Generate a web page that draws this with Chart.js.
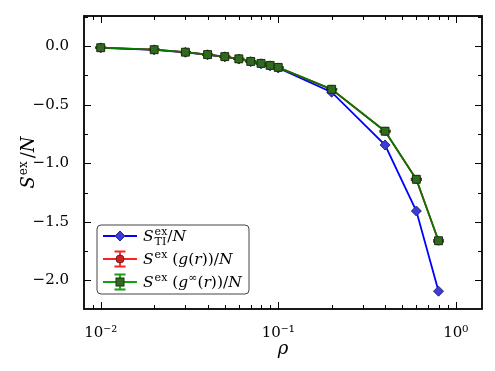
<!DOCTYPE html>
<html><head><meta charset="utf-8">
<script src="https://cdn.jsdelivr.net/npm/chart.js@4.4.0/dist/chart.umd.min.js"></script>
<style>html,body{margin:0;padding:0;background:#fff;}canvas{display:block;}</style>
</head><body>
<canvas id="c" width="495" height="371"></canvas>
<script>
// ---- data ----
const rho     = [0.01, 0.02, 0.03, 0.04, 0.05, 0.06, 0.07, 0.08, 0.09, 0.1, 0.2, 0.4, 0.6, 0.8];
const sTI     = [-0.014, -0.031, -0.052, -0.073, -0.091, -0.110, -0.132, -0.150, -0.168, -0.186, -0.393, -0.844, -1.408, -2.093];
const sG      = [-0.013, -0.030, -0.051, -0.072, -0.090, -0.108, -0.130, -0.147, -0.164, -0.181, -0.369, -0.727, -1.138, -1.664];
const errG    = [0.004, 0.004, 0.004, 0.004, 0.004, 0.004, 0.004, 0.004, 0.004, 0.004, 0.005, 0.006, 0.007, 0.008];
const sGinf   = [-0.013, -0.030, -0.051, -0.072, -0.089, -0.108, -0.130, -0.147, -0.164, -0.181, -0.368, -0.726, -1.137, -1.662];
const errGinf = [0.004, 0.004, 0.004, 0.004, 0.004, 0.004, 0.004, 0.004, 0.004, 0.004, 0.005, 0.006, 0.007, 0.008];
const xTickValues = [0.01, 0.1, 1];
const xTickLabels = ['10\u207B\u00B2', '10\u207B\u00B9', '10\u2070'];
const yTickValues = [0, -0.5, -1, -1.5, -2];
const yTickLabels = ['0.0', '\u22120.5', '\u22121.0', '\u22121.5', '\u22122.0'];
const yMinorValues = [0.25, -0.25, -0.75, -1.25, -1.75, -2.25];

const FONT = '"DejaVu Serif", "Liberation Serif", serif';
const BLUE = '#0000ff', RED = '#e00000', GREEN = '#007a00';

function pts(ys){ return rho.map((x,i)=>({x:x, y:ys[i]})); }

const errorSets = [
  {vals: sG, errs: errG, color: RED},
  {vals: sGinf, errs: errGinf, color: '#0a5a0a'}
];

const errorBarPlugin = {
  id: 'errbars',
  beforeDatasetsDraw(chart){
    const ctx = chart.ctx, xs = chart.scales.x, ys = chart.scales.y;
    ctx.save();
    ctx.lineWidth = 1.3;
    for (const s of errorSets){
      ctx.strokeStyle = s.color;
      rho.forEach((r,i)=>{
        const px = xs.getPixelForValue(r);
        const y1 = ys.getPixelForValue(s.vals[i] + s.errs[i]);
        const y2 = ys.getPixelForValue(s.vals[i] - s.errs[i]);
        ctx.beginPath();
        ctx.moveTo(px, y1); ctx.lineTo(px, y2);
        ctx.moveTo(px-5.5, y1); ctx.lineTo(px+5.5, y1);
        ctx.moveTo(px-5.5, y2); ctx.lineTo(px+5.5, y2);
        ctx.stroke();
      });
    }
    ctx.restore();
  }
};

function drawMath(ctx, x, y, parts){
  for (const p of parts){
    if (p.stack){
      let w = 0;
      for (const q of p.stack){
        ctx.font = (q.i?'italic ':'') + q.s + 'px ' + FONT;
        ctx.fillText(q.t, x, y + q.dy);
        w = Math.max(w, ctx.measureText(q.t).width);
      }
      x += w + (p.after||0);
    } else {
      ctx.font = (p.i?'italic ':'') + p.s + 'px ' + FONT;
      ctx.fillText(p.t, x, y + (p.dy||0));
      x += ctx.measureText(p.t).width + (p.after||0);
    }
  }
  return x;
}
function measureMath(ctx, parts){
  let x = 0;
  for (const p of parts){
    if (p.stack){
      let w = 0;
      for (const q of p.stack){ ctx.font = (q.i?'italic ':'') + q.s + 'px ' + FONT; w = Math.max(w, ctx.measureText(q.t).width); }
      x += w + (p.after||0);
    } else {
      ctx.font = (p.i?'italic ':'') + p.s + 'px ' + FONT;
      x += ctx.measureText(p.t).width + (p.after||0);
    }
  }
  return x;
}

const framePlugin = {
  id: 'frame',
  afterDraw(chart){
    const ctx = chart.ctx, a = chart.chartArea, xs = chart.scales.x, ys = chart.scales.y;
    ctx.save();
    ctx.strokeStyle = '#000';
    ctx.lineWidth = 1;
    const xmin = xs.min, xmax = xs.max;
    const drawX = (v, len) => {
      const px = Math.round(xs.getPixelForValue(v)) + 0.5;
      ctx.beginPath();
      ctx.moveTo(px, a.bottom); ctx.lineTo(px, a.bottom - len);
      ctx.moveTo(px, a.top); ctx.lineTo(px, a.top + len);
      ctx.stroke();
    };
    const drawY = (v, len) => {
      const py = Math.round(ys.getPixelForValue(v)) + 0.5;
      ctx.beginPath();
      ctx.moveTo(a.left, py); ctx.lineTo(a.left + len, py);
      ctx.moveTo(a.right, py); ctx.lineTo(a.right - len, py);
      ctx.stroke();
    };
    for (let e = -3; e <= 0; e++){
      for (let k = 1; k <= 9; k++){
        const v = k * Math.pow(10, e);
        if (v < xmin || v > xmax) continue;
        drawX(v, k === 1 ? 7 : 4);
      }
    }
    yTickValues.forEach(v => drawY(v, 7));
    yMinorValues.forEach(v => { if (v >= ys.min && v <= ys.max) drawY(v, 4); });
    ctx.lineWidth = 1.8;
    ctx.strokeRect(a.left, a.top, a.right - a.left, a.bottom - a.top);

    // legend
    const lx = 97, ly = 225, lw = 152, lh = 69, rr = 4;
    ctx.beginPath();
    ctx.moveTo(lx+rr, ly); ctx.lineTo(lx+lw-rr, ly); ctx.quadraticCurveTo(lx+lw, ly, lx+lw, ly+rr);
    ctx.lineTo(lx+lw, ly+lh-rr); ctx.quadraticCurveTo(lx+lw, ly+lh, lx+lw-rr, ly+lh);
    ctx.lineTo(lx+rr, ly+lh); ctx.quadraticCurveTo(lx, ly+lh, lx, ly+lh-rr);
    ctx.lineTo(lx, ly+rr); ctx.quadraticCurveTo(lx, ly, lx+rr, ly);
    ctx.closePath();
    ctx.fillStyle = 'rgba(255,255,255,0.9)'; ctx.fill();
    ctx.lineWidth = 1; ctx.strokeStyle = '#444'; ctx.stroke();

    const rows = [236, 259, 282];
    const hx1 = 103, hx2 = 137, hm = 120;
    ctx.lineWidth = 1.8; ctx.strokeStyle = BLUE;
    ctx.beginPath(); ctx.moveTo(hx1, rows[0]); ctx.lineTo(hx2, rows[0]); ctx.stroke();
    ctx.beginPath(); ctx.moveTo(hm, rows[0]-5); ctx.lineTo(hm+5, rows[0]); ctx.lineTo(hm, rows[0]+5); ctx.lineTo(hm-5, rows[0]); ctx.closePath();
    ctx.fillStyle = '#3b3be0'; ctx.fill(); ctx.lineWidth = 1; ctx.strokeStyle = '#2a2a70'; ctx.stroke();
    const eb = (y, col) => {
      ctx.lineWidth = 1.8; ctx.strokeStyle = col;
      ctx.beginPath(); ctx.moveTo(hx1, y); ctx.lineTo(hx2, y);
      ctx.moveTo(hm, y-7.5); ctx.lineTo(hm, y+7.5);
      ctx.moveTo(hm-5.5, y-7.5); ctx.lineTo(hm+5.5, y-7.5);
      ctx.moveTo(hm-5.5, y+7.5); ctx.lineTo(hm+5.5, y+7.5);
      ctx.stroke();
    };
    eb(rows[1], '#ff2020');
    ctx.beginPath(); ctx.arc(hm, rows[1], 4, 0, Math.PI*2);
    ctx.fillStyle = '#d02020'; ctx.fill(); ctx.lineWidth = 1; ctx.strokeStyle = '#702020'; ctx.stroke();
    eb(rows[2], '#10a010');
    ctx.fillStyle = '#2f6a1f'; ctx.fillRect(hm-4, rows[2]-4, 8, 8);
    ctx.lineWidth = 1; ctx.strokeStyle = '#1a3010'; ctx.strokeRect(hm-4, rows[2]-4, 8, 8);

    ctx.fillStyle = '#000'; ctx.textBaseline = 'alphabetic'; ctx.textAlign = 'left';
    const tx = 143, B = 15.5, Sm = 11;
    drawMath(ctx, tx, rows[0]+5, [
      {t:'S', i:true, s:B, after:1},
      {stack:[{t:'ex', s:Sm, dy:-6.5}, {t:'TI', s:Sm, dy:4}], after:0},
      {t:'/', s:B}, {t:'N', i:true, s:B}
    ]);
    drawMath(ctx, tx, rows[1]+5, [
      {t:'S', i:true, s:B, after:1}, {t:'ex', s:Sm, dy:-6.5}, {t:' (', s:B},
      {t:'g', i:true, s:B}, {t:'(', s:B}, {t:'r', i:true, s:B}, {t:'))/', s:B}, {t:'N', i:true, s:B}
    ]);
    drawMath(ctx, tx, rows[2]+5, [
      {t:'S', i:true, s:B, after:1}, {t:'ex', s:Sm, dy:-6.5}, {t:' (', s:B},
      {t:'g', i:true, s:B}, {t:'\u221E', s:Sm, dy:-6.5}, {t:'(', s:B}, {t:'r', i:true, s:B}, {t:'))/', s:B}, {t:'N', i:true, s:B}
    ]);

    const yt = [{t:'S', i:true, s:18, after:1}, {t:'ex', s:12, dy:-7, after:3}, {t:'/', s:18}, {t:'N', i:true, s:18}];
    const w = measureMath(ctx, yt);
    ctx.save();
    ctx.translate(28, (a.top + a.bottom)/2);
    ctx.rotate(-Math.PI/2);
    drawMath(ctx, -w/2, 6, yt);
    ctx.restore();
    ctx.font = 'italic 18px ' + FONT;
    ctx.textAlign = 'center';
    ctx.fillText('\u03C1', (a.left + a.right)/2, 354);
    ctx.restore();
  }
};

new Chart(document.getElementById('c'), {
  type: 'line',
  data: {
    datasets: [
      {label:'S_TI', data: pts(sTI), borderColor: BLUE, borderWidth: 1.8, pointStyle: 'rectRot', pointRadius: 5,
       pointBackgroundColor: '#3b3be0', pointBorderColor: '#2a2a70', pointBorderWidth: 1, order: 3, tension: 0},
      {label:'S_g', data: pts(sG), borderColor: RED, borderWidth: 1.8, pointStyle: 'circle', pointRadius: 4,
       pointBackgroundColor: '#d02020', pointBorderColor: '#702020', pointBorderWidth: 1, order: 2, tension: 0},
      {label:'S_ginf', data: pts(sGinf), borderColor: GREEN, borderWidth: 1.8, pointStyle: 'rect', pointRadius: 5.6,
       pointBackgroundColor: '#2f6a1f', pointBorderColor: '#1a3010', pointBorderWidth: 1, order: 1, tension: 0}
    ]
  },
  options: {
    responsive: false, animation: false, devicePixelRatio: 1,
    layout: {padding: {left: 0, top: 13, right: 13, bottom: 0}},
    plugins: {legend: {display: false}, tooltip: {enabled: false}},
    scales: {
      x: {
        type: 'logarithmic', min: 0.00805, max: 1.406,
        afterBuildTicks: s => { s.ticks = xTickValues.map(v => ({value: v})); },
        afterFit: s => { s.height = 62; },
        grid: {display: false}, border: {display: false},
        ticks: {autoSkip: false, maxRotation: 0, padding: 7, color: '#000',
                font: {family: FONT, size: 15},
                callback: (v, i) => xTickLabels[i]}
      },
      y: {
        type: 'linear', min: -2.245, max: 0.258,
        afterBuildTicks: s => { s.ticks = yTickValues.map(v => ({value: v})); },
        afterFit: s => { s.width = 84; },
        grid: {display: false}, border: {display: false},
        ticks: {autoSkip: false, padding: 7, color: '#000',
                font: {family: FONT, size: 15},
                callback: (v, i) => yTickLabels[i]}
      }
    }
  },
  plugins: [errorBarPlugin, framePlugin]
});
</script>
</body></html>
